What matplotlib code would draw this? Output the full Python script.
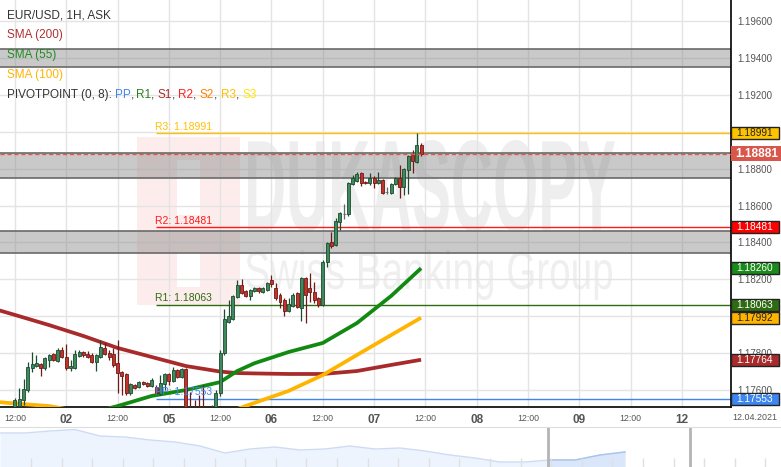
import numpy as np
import matplotlib
matplotlib.use("Agg")
import matplotlib.pyplot as plt
import matplotlib.transforms as mtransforms
from matplotlib.patches import Rectangle, PathPatch
from matplotlib.textpath import TextPath
from matplotlib.font_manager import FontProperties

plt.rcParams["font.family"] = ["Liberation Sans", "DejaVu Sans"]

# EUR/USD 1H candles, hour index counted from 01.04 12:00 (weekend removed)
opens = [1.17481, 1.17513, 1.17546, 1.17600, 1.17719, 1.17730, 1.17741, 1.17719, 1.17763, 1.17795,
         1.17757, 1.17817, 1.17779, 1.17719, 1.17719, 1.17784, 1.17806, 1.17795, 1.17790, 1.17752,
         1.17779, 1.17828, 1.17801, 1.17795, 1.17746, 1.17698, 1.17687, 1.17584, 1.17627, 1.17616,
         1.17643, 1.17638, 1.17622, 1.17616, 1.17578, 1.17633, 1.17687, 1.17649, 1.17708, 1.17670,
         1.17714, 1.17481, 1.17448, 1.17437, 1.17448, 1.17410, 1.17459, 1.17481, 1.17584, 1.17801,
         1.17969, 1.17985, 1.18104, 1.18169, 1.18137, 1.18109, 1.18137, 1.18153, 1.18131, 1.18142,
         1.18196, 1.18153, 1.18115, 1.18088, 1.18028, 1.18055, 1.18126, 1.18044, 1.18207, 1.18153,
         1.18131, 1.18099, 1.18061, 1.18294, 1.18402, 1.18386, 1.18511, 1.18556, 1.18554, 1.18717,
         1.18733, 1.18776, 1.18727, 1.18722, 1.18749, 1.18722, 1.18738, 1.18673, 1.18668, 1.18717,
         1.18749, 1.18700, 1.18792, 1.18874, 1.18836, 1.18928]
highs = [1.17557, 1.17611, 1.17660, 1.17752, 1.17806, 1.17790, 1.17746, 1.17779, 1.17795, 1.17801,
         1.17828, 1.17833, 1.17849, 1.17763, 1.17817, 1.17817, 1.17811, 1.17811, 1.17801, 1.17795,
         1.17871, 1.17855, 1.17817, 1.17828, 1.17871, 1.17703, 1.17692, 1.17638, 1.17633, 1.17649,
         1.17649, 1.17643, 1.17665, 1.17627, 1.17681, 1.17692, 1.17692, 1.17725, 1.17714, 1.17719,
         1.17719, 1.17589, 1.17546, 1.17573, 1.17627, 1.17502, 1.17519, 1.17600, 1.17817, 1.18039,
         1.18088, 1.18115, 1.18196, 1.18202, 1.18142, 1.18147, 1.18158, 1.18158, 1.18158, 1.18185,
         1.18223, 1.18180, 1.18126, 1.18099, 1.18099, 1.18126, 1.18131, 1.18212, 1.18212, 1.18234,
         1.18185, 1.18104, 1.18305, 1.18402, 1.18456, 1.18532, 1.18565, 1.18608, 1.18727, 1.18765,
         1.18782, 1.18782, 1.18733, 1.18776, 1.18760, 1.18782, 1.18744, 1.18700, 1.18722, 1.18754,
         1.18820, 1.18803, 1.18874, 1.18901, 1.18993, 1.18939]
lows = [1.17464, 1.17497, 1.17519, 1.17589, 1.17698, 1.17725, 1.17676, 1.17708, 1.17725, 1.17757,
        1.17752, 1.17773, 1.17708, 1.17703, 1.17714, 1.17779, 1.17779, 1.17773, 1.17746, 1.17703,
        1.17773, 1.17790, 1.17763, 1.17725, 1.17584, 1.17573, 1.17573, 1.17573, 1.17605, 1.17611,
        1.17627, 1.17616, 1.17616, 1.17578, 1.17573, 1.17600, 1.17627, 1.17643, 1.17665, 1.17665,
        1.17427, 1.17394, 1.17372, 1.17356, 1.17383, 1.17383, 1.17410, 1.17464, 1.17567, 1.17790,
        1.17963, 1.17979, 1.18099, 1.18120, 1.18104, 1.18088, 1.18131, 1.18126, 1.18126, 1.18137,
        1.18158, 1.18088, 1.18044, 1.18001, 1.18023, 1.18050, 1.18044, 1.17974, 1.17963, 1.18077,
        1.18072, 1.18050, 1.18055, 1.18267, 1.18370, 1.18381, 1.18467, 1.18527, 1.18543, 1.18711,
        1.18727, 1.18706, 1.18717, 1.18711, 1.18695, 1.18717, 1.18662, 1.18662, 1.18662, 1.18711,
        1.18641, 1.18657, 1.18662, 1.18776, 1.18830, 1.18868]
closes = [1.17546, 1.17551, 1.17605, 1.17725, 1.17741, 1.17746, 1.17719, 1.17773, 1.17790, 1.17763,
          1.17817, 1.17779, 1.17719, 1.17730, 1.17795, 1.17806, 1.17790, 1.17779, 1.17752, 1.17790,
          1.17833, 1.17795, 1.17779, 1.17736, 1.17692, 1.17676, 1.17584, 1.17633, 1.17611, 1.17643,
          1.17633, 1.17622, 1.17654, 1.17584, 1.17638, 1.17687, 1.17649, 1.17708, 1.17670, 1.17714,
          1.17464, 1.17437, 1.17410, 1.17405, 1.17427, 1.17464, 1.17481, 1.17584, 1.17801, 1.17985,
          1.18001, 1.18109, 1.18169, 1.18126, 1.18109, 1.18142, 1.18153, 1.18137, 1.18153, 1.18180,
          1.18175, 1.18099, 1.18077, 1.18028, 1.18066, 1.18115, 1.18050, 1.18207, 1.18115, 1.18131,
          1.18088, 1.18061, 1.18294, 1.18397, 1.18381, 1.18516, 1.18559, 1.18556, 1.18722, 1.18749,
          1.18771, 1.18722, 1.18722, 1.18749, 1.18722, 1.18738, 1.18668, 1.18673, 1.18717, 1.18749,
          1.18700, 1.18798, 1.18868, 1.18841, 1.18928, 1.18881]

# moving averages
sma_hours = [-4, 0, 8, 16, 24, 32, 40, 48, 52, 56, 64, 72, 80, 88, 95]
sma200 = [1.18034, 1.18007, 1.17952, 1.17893, 1.17828, 1.17779, 1.17730, 1.17700, 1.17692, 1.17690,
          1.17687, 1.17687, 1.17703, 1.17736, 1.17764]
sma55 = [1.17367, 1.17383, 1.17410, 1.17465, 1.17513, 1.17568, 1.17600, 1.17643, 1.17703, 1.17745,
         1.17806, 1.17855, 1.17963, 1.18110, 1.18260]
sma100 = [1.17535, 1.17527, 1.17513, 1.17481, 1.17465, 1.17459, 1.17465, 1.17481, 1.17497, 1.17530,
          1.17595, 1.17681, 1.17790, 1.17898, 1.17992]

# pivot points (period starts at hour 33)
pivot_start = 33
pivot_names = ["R3", "R2", "R1", "PP"]
pivot_values = [1.18991, 1.18481, 1.18063, 1.17553]
pivot_colors = ["#ffc000", "#ff1a1a", "#2f6b12", "#3d86f0"]

# grey zones
zones = [(1.19349, 1.19447), (1.18747, 1.18886), (1.18343, 1.18462)]

tick_hours = [0, 12, 24, 36, 48, 60, 72, 84, 96, 108, 120, 132, 144, 156]
tick_labels = ["12:00", "02", "12:00", "05", "12:00", "06", "12:00", "07",
               "12:00", "08", "12:00", "09", "12:00", "12"]
price_ticks = [1.176, 1.178, 1.180, 1.182, 1.184, 1.186, 1.188, 1.190, 1.192, 1.194, 1.196]

# navigator (longer history), sampled every 25 px
nav_values = [1.1876, 1.1876, 1.1884, 1.1890, 1.1864, 1.1860, 1.1848, 1.1840, 1.1824, 1.1796,
              1.1812, 1.1820, 1.1808, 1.1812, 1.1824, 1.1812, 1.1816, 1.1804, 1.1788, 1.1776,
              1.1760, 1.1760, 1.1768, 1.1768, 1.1788, 1.1800]
nav_step = 25
nav_window = (548, 690)

W, H = 781, 467
fig = plt.figure(figsize=(W / 100, H / 100), dpi=100)
ax = fig.add_axes([0, 60 / H, 731 / W, 407 / H])
ax.set_xlim(-3.5, 167.5)
ax.set_ylim(1.17508, 1.19714)
ax.set_axisbelow(True)


def path_in_box(text, box, weight, color):
    # watermark text stretched into a pixel box
    tp = TextPath((0, 0), text, size=1, prop=FontProperties(family="Liberation Sans", weight=weight))
    ext = tp.get_extents()
    x0, y0, x1, y1 = box
    tr = (mtransforms.Affine2D().translate(-ext.x0, -ext.y0)
          .scale((x1 - x0) / ext.width / W, (y1 - y0) / ext.height / H)
          .translate(x0 / W, 1 - y1 / H) + fig.transFigure)
    ax.add_patch(PathPatch(tp, transform=tr, facecolor=color, edgecolor="none", zorder=0.2))


ax.add_patch(Rectangle((137 / W, 1 - 305 / H), 103 / W, 168 / H, transform=fig.transFigure,
                       facecolor="#fcecec", edgecolor="none", zorder=0.1))
ax.add_patch(Rectangle((177 / W, 1 - 215 / H), 23 / W, 55 / H, transform=fig.transFigure,
                       facecolor="white", edgecolor="none", zorder=0.15))
ax.add_patch(Rectangle((177 / W, 1 - 287 / H), 23 / W, 35 / H, transform=fig.transFigure,
                       facecolor="white", edgecolor="none", zorder=0.15))
path_in_box("DUKASCOPY", (248, 140, 615, 232), "bold", "#eeeeee")
path_in_box("Swiss Banking Group", (246, 250, 612, 300), "normal", "#efefef")

ax.grid(True, color="#e4e4e4", lw=1)

# zones
for lo, hi in zones:
    ax.axhspan(lo, hi, facecolor="#808080", alpha=0.42, lw=0, zorder=1.5)
    ax.axhline(lo, color="#6a6a6a", lw=1.2, zorder=1.6)
    ax.axhline(hi, color="#6a6a6a", lw=1.2, zorder=1.6)

# pivots
for name, val, col in zip(pivot_names, pivot_values, pivot_colors):
    ax.hlines(val, pivot_start, 167.5, color=col, lw=1, zorder=2)
    ax.annotate(f"{name}: {val:.5f}", (pivot_start - 0.3, val), xytext=(0, 1.2),
                textcoords="offset points", ha="left", va="bottom", fontsize=7.5,
                color=col, zorder=5)

# moving averages
ax.plot(sma_hours, sma200, color="#a82a2a", lw=2.7, zorder=2.8, solid_capstyle="butt")
ax.plot(sma_hours, sma55, color="#128a12", lw=2.7, zorder=2.8, solid_capstyle="butt")
ax.plot(sma_hours, sma100, color="#ffb400", lw=2.7, zorder=2.8, solid_capstyle="butt")

# candles
hours = np.arange(len(opens))
o = np.array(opens)
c = np.array(closes)
face = np.where(c > o, "#3d8a5b", np.where(c < o, "#c0342c", "#8a8a8a"))
edge = np.where(c > o, "#1e4a30", np.where(c < o, "#6e1a16", "#666666"))
ax.vlines(hours, lows, highs, colors=edge, lw=0.9, zorder=3)
ax.bar(hours, np.abs(c - o), bottom=np.minimum(o, c), width=0.7, color=face,
       edgecolor=edge, lw=0.6, zorder=3.2)

# current price
price = closes[-1]
ax.axhline(price, color="#dd5a4a", lw=1, ls=(0, (3, 2)), zorder=3.5)

# axes styling
for s in ["top", "left"]:
    ax.spines[s].set_visible(False)
for s in ["right", "bottom"]:
    ax.spines[s].set_color("black")
    ax.spines[s].set_linewidth(1.2)
ax.yaxis.tick_right()
ax.set_yticks(price_ticks)
ax.set_yticklabels([f"{v:.5f}" for v in price_ticks])
ax.tick_params(axis="y", length=0, pad=4.5, labelsize=7, labelcolor="#555555")
ax.set_xticks(tick_hours)
ax.set_xticklabels(tick_labels)
ax.tick_params(axis="x", length=0, pad=5, labelcolor="#555555")
for lab in ax.get_xticklabels():
    if lab.get_text() == "12:00":
        lab.set_fontsize(6.3)
    else:
        lab.set_fontsize(8.5)
        lab.set_fontweight("bold")
fig.text(755 / W, 1 - 417 / H, "12.04.2021", ha="center", va="center", fontsize=6.4, color="#555555")

# right-hand value boxes
blend = mtransforms.blended_transform_factory(ax.transAxes, ax.transData)
px = 0.0000542
boxes = [
    (pivot_values[0], "#ffc400", "#222222"),
    (pivot_values[1], "#ff0000", "white"),
    (sma55[-1], "#1a8a1a", "white"),
    (pivot_values[2], "#2f6b12", "white"),
    (sma100[-1], "#ffb400", "#222222"),
    (sma200[-1], "#a82a2a", "white"),
    (pivot_values[3], "#3d86f0", "white"),
]
for val, fc, tc in boxes:
    ax.add_patch(Rectangle((1.0, val - 6 * px), 48 / 731, 12 * px, transform=blend, clip_on=False,
                           facecolor=fc, edgecolor="#222222", lw=1, zorder=10))
    ax.text(1.0 + 5 / 731, val, f"{val:.5f}", transform=blend, ha="left", va="center",
            fontsize=7.3, color=tc, zorder=11, clip_on=False)
ax.add_patch(Rectangle((1.0, price - 7.5 * px), 50 / 731, 15 * px, transform=blend, clip_on=False,
                       facecolor="#d9564a", edgecolor="none", zorder=10))
ax.text(1.0 + 4 / 731, price, f"{price:.5f}", transform=blend, ha="left", va="center",
        fontsize=8.6, fontweight="bold", color="white", zorder=11, clip_on=False)

# legend lines top-left
legend_lines = [("EUR/USD, 1H, ASK", "#333333"), ("SMA (200)", "#b03030"),
                ("SMA (55)", "#228b22"), ("SMA (100)", "#ffb400")]
for k, (txt, col) in enumerate(legend_lines):
    fig.text(7 / W, 1 - (15 + 20 * k) / H, txt, ha="left", va="center", fontsize=8.5, color=col)

pieces = [("PIVOTPOINT (0, 8): ", "#333333"), ("PP", "#3d86f0"), (", ", "#333333"),
          ("R1", "#2f7d1e"), (", ", "#333333"), ("S1", "#a82a2a"), (", ", "#333333"),
          ("R2", "#ff2020"), (", ", "#333333"), ("S2", "#ff8000"), (", ", "#333333"),
          ("R3", "#ffc000"), (", ", "#333333"), ("S3", "#ffe600")]
renderer = fig.canvas.get_renderer()


def text_width(s):
    # width in px, trailing spaces kept by measuring against a marker glyph
    t = fig.text(0, 0, s + "|", fontsize=8.5)
    m = fig.text(0, 0, "|", fontsize=8.5)
    w = t.get_window_extent(renderer).width - m.get_window_extent(renderer).width
    t.remove()
    m.remove()
    return w


prefix = ""
for txt, col in pieces:
    x_px = 7 + (text_width(prefix) if prefix else 0)
    fig.text(x_px / W, 1 - 95 / H, txt, ha="left", va="center", fontsize=8.5, color=col)
    prefix += txt

# navigator
nav = fig.add_axes([0, 0, 1, 40 / H])
nav.set_xlim(0, W)
nav.set_ylim(1.1740, 1.1900)
nav_x = np.arange(len(nav_values)) * nav_step
nav.fill_between(nav_x, nav_values, 1.1740, color="#eef4fd", lw=0)
nav.plot(nav_x, nav_values, color="#cddcf4", lw=1)
clip = Rectangle((nav_window[0], 1.1740), nav_window[1] - nav_window[0], 0.016, transform=nav.transData)
sel = nav.fill_between(nav_x, nav_values, 1.1740, color="#dae6fa", lw=0)
sel.set_clip_path(clip)
sel_line, = nav.plot(nav_x, nav_values, color="#a9c4ee", lw=1)
sel_line.set_clip_path(clip)
nav.vlines(np.arange(31, W, 30.6), 1.1740, 1.1776, color="#e0e0e0", lw=1)
for xv in nav_window:
    nav.axvline(xv, color="#b4b4b4", lw=2)
nav.set_xticks([])
nav.set_yticks([])
for s in ["left", "right", "bottom"]:
    nav.spines[s].set_visible(False)
nav.spines["top"].set_color("#dddddd")

fig.savefig("out.png", dpi=100)
